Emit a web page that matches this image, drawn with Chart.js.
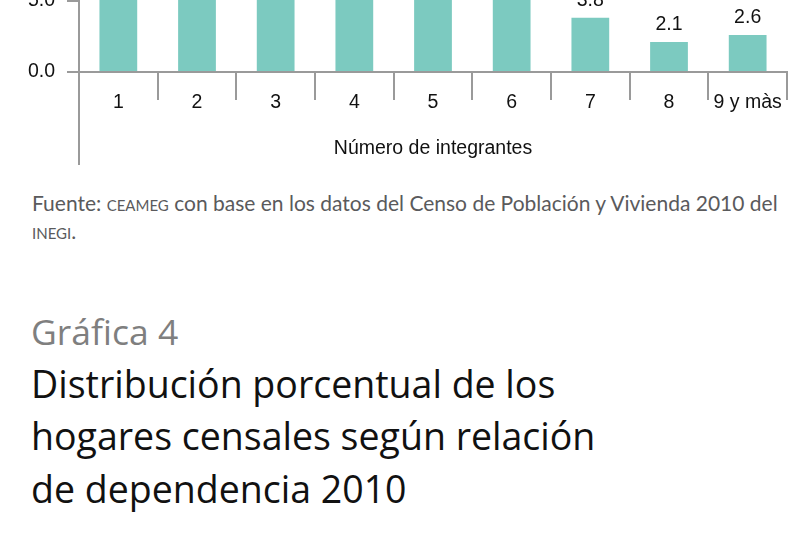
<!DOCTYPE html>
<html>
<head>
<meta charset="utf-8">
<script src="https://cdn.jsdelivr.net/npm/chart.js@4.4.0/dist/chart.umd.min.js"></script>
<style>
  html, body { margin: 0; padding: 0; background: #fff; }
  body { width: 791px; height: 554px; overflow: hidden; position: relative; }
  #wrap { position: absolute; left: 0; top: -308px; width: 791px; height: 480px; }
  .fuente { position: absolute; left: 32px; top: 190px; width: 770px; white-space: nowrap;
    font-family: "Lato", sans-serif; font-weight: 400; font-size: 21px; line-height: 25px; color: #5a5a5c; }
  .fuente .sc { font-size: 15px; }
  .titulo { position: absolute; left: 31px; top: 305px;
    font-family: "Open Sans", sans-serif; font-size: 37.5px; line-height: 52.5px; color: #111; }
  .titulo .num { color: #7f7f7f; font-size: 35.5px; }
</style>
</head>
<body>
<div id="wrap"><canvas id="myChart"></canvas></div>

<div class="fuente">Fuente: <span class="sc">CEAMEG</span> con base en los datos del Censo de Población y Vivienda 2010 del<br><span class="sc">INEGI</span>.</div>

<div class="titulo"><span class="num">Gráfica 4</span><br>Distribución porcentual de los<br>hogares censales según relación<br>de dependencia 2010</div>

<script>
// data (bars 1-6 are cut off at the top of the page, estimated)
var categorias = ["1", "2", "3", "4", "5", "6", "7", "8", "9 y màs"];
var porcentajes = [9.5, 17.6, 20.1, 21.8, 15.2, 7.5, 3.8, 2.1, 2.6];
var yTicks = [0, 5, 10, 15, 20, 25];

var barColor = "#7ccac0";
var axisColor = "#9a9a9a";
var fontFam = "'Liberation Sans', Arial, sans-serif";
var fontSize = 19.5;

// value labels over the bars
var valueLabels = {
  id: "valueLabels",
  afterDatasetsDraw: function(chart) {
    var ctx = chart.ctx;
    var meta = chart.getDatasetMeta(0);
    ctx.save();
    ctx.font = fontSize + "px " + fontFam;
    ctx.fillStyle = "#111";
    ctx.textAlign = "center";
    ctx.textBaseline = "middle";
    meta.data.forEach(function(bar, i) {
      ctx.fillText(porcentajes[i].toFixed(1), bar.x, bar.y - 17);
    });
    ctx.restore();
  }
};

// y axis line runs on below the category labels
var axisExtend = {
  id: "axisExtend",
  afterDraw: function(chart) {
    var a = chart.chartArea;
    var ctx = chart.ctx;
    ctx.save();
    ctx.strokeStyle = axisColor;
    ctx.lineWidth = 2;
    ctx.beginPath();
    ctx.moveTo(a.left, a.bottom);
    ctx.lineTo(a.left, a.bottom + 93);
    ctx.stroke();
    ctx.restore();
  }
};

new Chart("myChart", {
  type: "bar",
  data: {
    labels: categorias,
    datasets: [{
      data: porcentajes,
      backgroundColor: barColor,
      borderWidth: 0,
      barPercentage: 0.48,
      categoryPercentage: 1
    }]
  },
  options: {
    responsive: true,
    maintainAspectRatio: false,
    animation: false,
    layout: { padding: { top: 20, left: 0, right: 4, bottom: 0 } },
    plugins: {
      legend: { display: false },
      tooltip: { enabled: false }
    },
    scales: {
      x: {
        afterFit: function(s) { s.height = 100; },
        grid: { drawOnChartArea: false, tickLength: 28, color: axisColor, lineWidth: 2 },
        border: { color: axisColor, width: 2 },
        ticks: { padding: -9, color: "#111", font: { family: fontFam, size: fontSize } },
        title: {
          display: true,
          text: "Número de integrantes",
          color: "#111",
          font: { family: fontFam, size: fontSize },
          padding: { top: 0, bottom: 12 }
        }
      },
      y: {
        min: yTicks[0],
        max: yTicks[yTicks.length - 1],
        afterFit: function(s) { s.width = 79; },
        afterBuildTicks: function(s) { s.ticks = yTicks.map(function(v) { return { value: v }; }); },
        grid: { drawOnChartArea: false, tickLength: 12, color: axisColor, lineWidth: 2 },
        border: { color: axisColor, width: 2 },
        ticks: {
          padding: 12,
          color: "#111",
          font: { family: fontFam, size: fontSize },
          callback: function(v) { return v.toFixed(1); }
        }
      }
    }
  },
  plugins: [valueLabels, axisExtend]
});
</script>
</body>
</html>
